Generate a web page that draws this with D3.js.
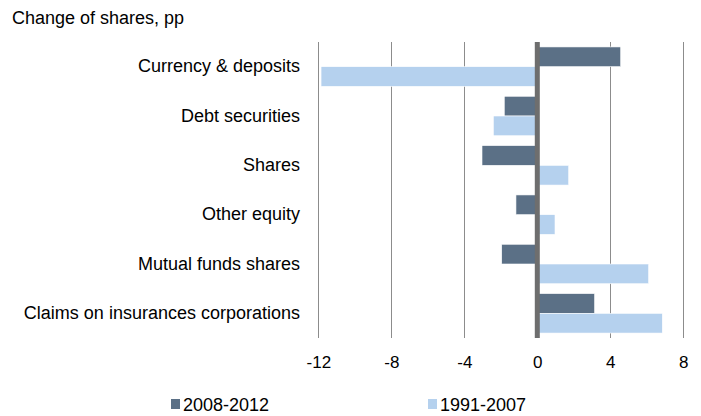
<!DOCTYPE html>
<html><head><meta charset="utf-8">
<script src="https://cdn.jsdelivr.net/npm/d3@7"></script>
<style>body{margin:0;background:#fff}svg{display:block;font-family:"Liberation Sans",Arial,sans-serif}</style>
</head><body><svg id="c" width="701" height="416"></svg>
<script>
const categories = ["Currency & deposits","Debt securities","Shares","Other equity","Mutual funds shares","Claims on insurances corporations"];
const series = ["2008-2012","1991-2007"];
const values2008 = [4.57,-1.81,-3.03,-1.17,-1.95,3.14];
const values1991 = [-11.85,-2.41,1.72,0.97,6.10,6.85];
const tickValues = [-12,-8,-4,0,4,8];
const colors = ["#5b7086","#b5d1ee"];

const svg = d3.select("#c");
const FONT = "Liberation Sans, Arial, sans-serif";
const x = d3.scaleLinear().domain([-12,8]).range([318.3,683.3]);
const y = d3.scaleBand().domain(categories).range([42,338]).paddingInner(0.2).paddingOuter(0.1);
const ys = d3.scaleBand().domain(series).range([0,y.bandwidth()]);

// gridlines
svg.append("g").selectAll("line").data(tickValues.filter(d=>d!==0)).join("line")
  .attr("x1",d=>Math.round(x(d))+0.5).attr("x2",d=>Math.round(x(d))+0.5)
  .attr("y1",42).attr("y2",338).attr("stroke","#8c8c8c").attr("stroke-width",1);

const data = [];
categories.forEach((c,i)=>{
  data.push({c,s:series[0],v:values2008[i]});
  data.push({c,s:series[1],v:values1991[i]});
});
svg.append("g").selectAll("rect").data(data).join("rect")
  .attr("x",d=>x(Math.min(0,d.v)))
  .attr("width",d=>Math.abs(x(d.v)-x(0)))
  .attr("y",d=>y(d.c)+ys(d.s))
  .attr("height",ys.bandwidth())
  .attr("fill",d=>colors[series.indexOf(d.s)])
  .attr("stroke","#fff").attr("stroke-width",0.6);

// zero axis line
svg.append("line").attr("x1",x(0)).attr("x2",x(0)).attr("y1",42).attr("y2",338)
  .attr("stroke","#6e6e6e").attr("stroke-width",5);

// x axis labels
const xa = svg.append("g").attr("transform","translate(0,338)")
  .call(d3.axisBottom(x).tickValues(tickValues).tickSize(0).tickPadding(18).tickFormat(d=>String(d)));
xa.select(".domain").remove();
xa.selectAll("text").attr("font-size",17).attr("fill","#000").attr("font-family",FONT);

// y labels
const ya = svg.append("g").attr("transform","translate(302,0)")
  .call(d3.axisLeft(y).tickSize(0).tickPadding(2));
ya.select(".domain").remove();
ya.selectAll("text").attr("font-size",18).attr("fill","#000").attr("font-family",FONT);

// title
svg.append("text").attr("x",12).attr("y",24).attr("font-size",18).attr("font-family",FONT).text("Change of shares, pp");

// legend
const lx = [171,428];
series.forEach((s,i)=>{
  svg.append("rect").attr("x",lx[i]).attr("y",399).attr("width",9).attr("height",10).attr("fill",colors[i]);
  svg.append("text").attr("x",lx[i]+12).attr("y",410.5).attr("font-size",18).attr("font-family",FONT).text(s);
});
</script></body></html>
